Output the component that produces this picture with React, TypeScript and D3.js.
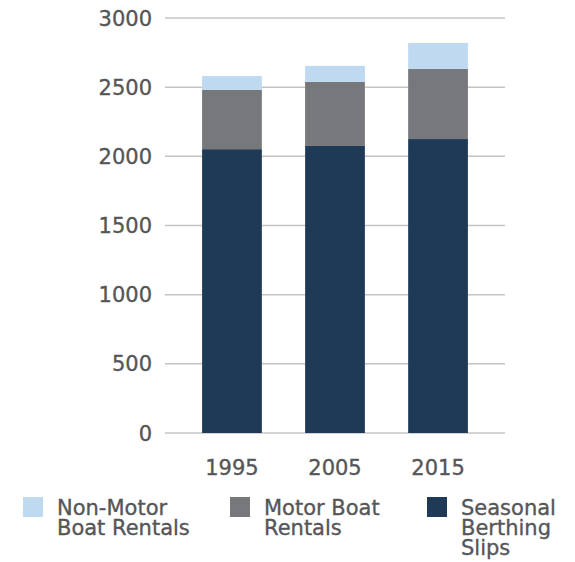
import React from 'react';
import * as d3 from 'd3';

// values
const years = ['1995', '2005', '2015'];
const seasonalBerthing = [2052, 2075, 2125];
const motorBoat = [428, 463, 507];
const nonMotorBoat = [100, 116, 188];
const yTicks = [0, 500, 1000, 1500, 2000, 2500, 3000];

const seriesKeys = ['seasonal', 'motor', 'nonMotor'];
const seriesColors: Record<string, string> = {
  seasonal: '#1f3a56',
  motor: '#77787b',
  nonMotor: '#bfd9f0',
};
const legendItems = [
  { key: 'nonMotor', lines: ['Non-Motor', 'Boat Rentals'] },
  { key: 'motor', lines: ['Motor Boat', 'Rentals'] },
  { key: 'seasonal', lines: ['Seasonal', 'Berthing', 'Slips'] },
];

const width = 575;
const height = 562;
const font = '"DejaVu Sans", "Liberation Sans", sans-serif';
const textColor = '#555658';

const App: React.FC = () => {
  const rows = years.map((year, i) => ({
    year,
    seasonal: seasonalBerthing[i],
    motor: motorBoat[i],
    nonMotor: nonMotorBoat[i],
  }));

  const stacked = d3.stack<any>().keys(seriesKeys)(rows);

  const x = d3.scaleBand()
    .domain(years)
    .range([165, 505])
    .paddingInner(0.42)
    .paddingOuter(0.36);

  const y = d3.scaleLinear()
    .domain([0, 3000])
    .range([433, 18]);

  const legendX = d3.scaleOrdinal<string, number>()
    .domain(legendItems.map(d => d.key))
    .range([23, 230, 427]);

  // slight stroke to get closer to the heavier gothic face of the original
  const textStyle = { stroke: textColor, strokeWidth: 0.35 };

  return (
    <svg
      width={width}
      height={height}
      style={{ position: 'absolute', left: 0, top: 0, background: '#fff' }}
      fontFamily={font}
    >
      {/* gridlines and y labels */}
      {yTicks.map(t => (
        <g key={t}>
          <line x1={165} x2={505} y1={y(t)} y2={y(t)} stroke="#c4c4c4" strokeWidth={1.5} />
          <text x={152} y={y(t)} dy="0.36em" textAnchor="end" fontSize={21} fill={textColor} style={textStyle}>
            {t}
          </text>
        </g>
      ))}

      {/* stacked bars */}
      {stacked.map(layer => (
        <g key={layer.key} fill={seriesColors[layer.key]}>
          {layer.map((d, i) => (
            <rect
              key={i}
              x={x(years[i])}
              y={y(d[1])}
              width={x.bandwidth()}
              height={y(d[0]) - y(d[1])}
            />
          ))}
        </g>
      ))}

      {/* x labels */}
      {years.map(yr => (
        <text
          key={yr}
          x={(x(yr) || 0) + x.bandwidth() / 2}
          y={475}
          textAnchor="middle"
          fontSize={21}
          fill={textColor}
          style={textStyle}
        >
          {yr}
        </text>
      ))}

      {/* legend */}
      {legendItems.map(item => {
        const lx = legendX(item.key);
        return (
          <g key={item.key}>
            <rect x={lx} y={497} width={20} height={20} fill={seriesColors[item.key]} />
            <text x={lx + 34} y={515} fontSize={21} fill={textColor} style={textStyle}>
              {item.lines.map((ln, j) => (
                <tspan key={j} x={lx + 34} dy={j === 0 ? 0 : 20}>{ln}</tspan>
              ))}
            </text>
          </g>
        );
      })}
    </svg>
  );
};

export default App;
